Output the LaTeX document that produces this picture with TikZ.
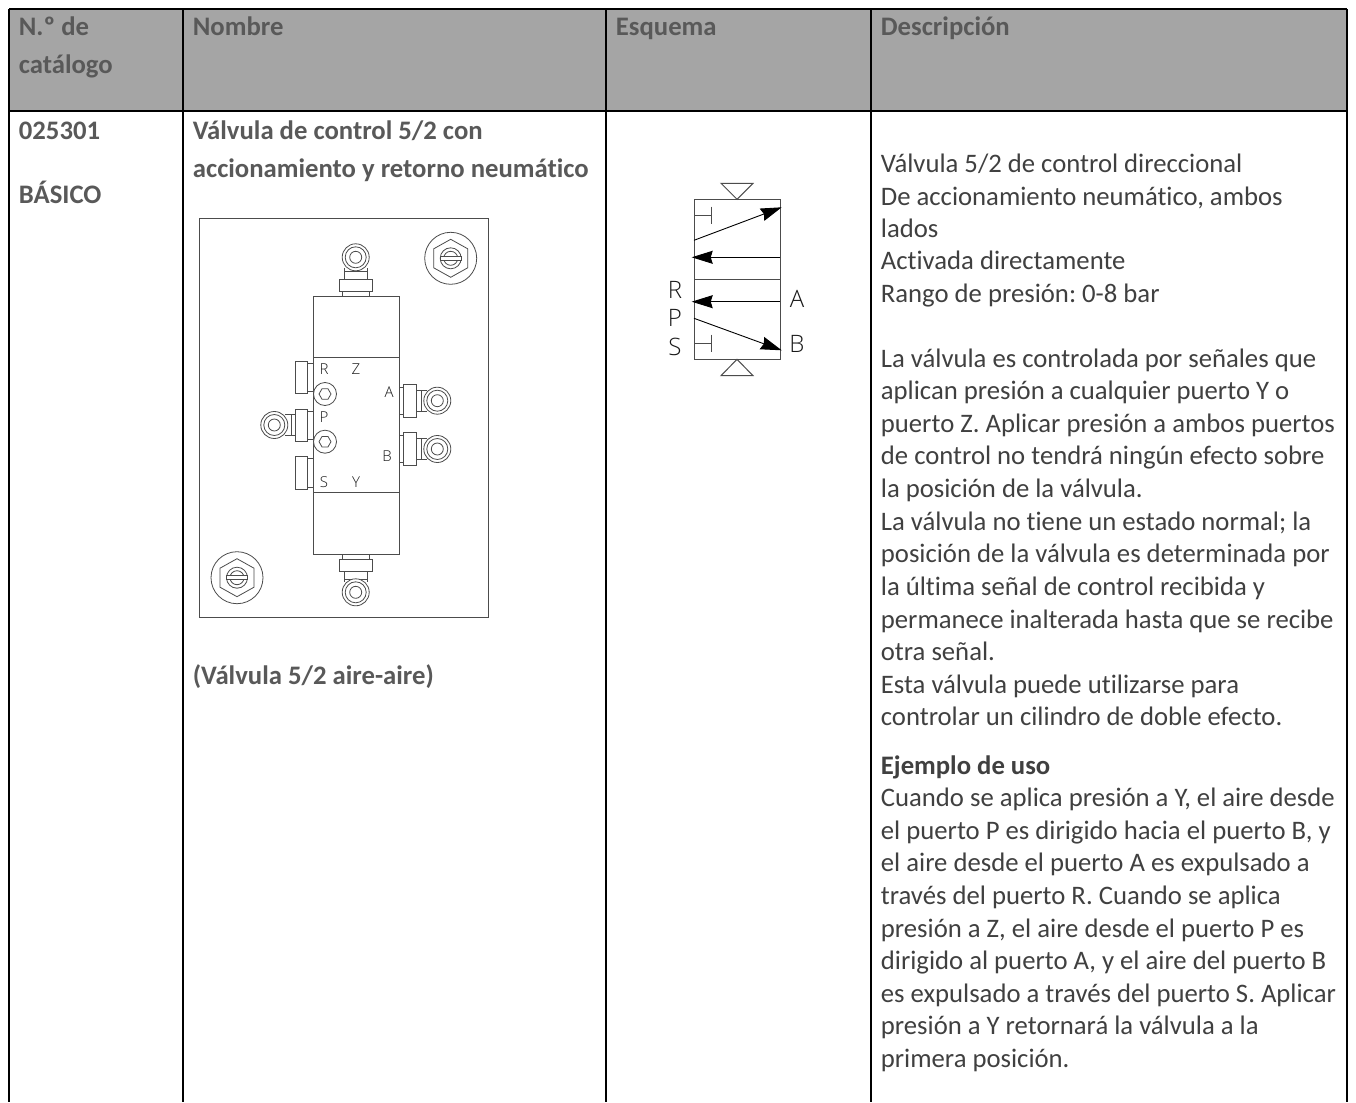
\documentclass[tikz,border=0pt]{standalone}
\usepackage{fontspec}
\setmainfont[Ligatures=CommonOff]{Carlito}
\newfontfamily\cadfont{Open Sans Light}
\usetikzlibrary{arrows.meta}
\definecolor{hdrfill}{HTML}{A5A5A5}
\definecolor{hdrtext}{HTML}{595959}
\definecolor{bodytext}{HTML}{404040}
\tikzset{
  x=1pt,y=-1pt,
  rule/.style={line width=2.4pt,black},
  cad/.style={line width=0.8pt,draw=black!70},
  bold/.style={anchor=base west,inner sep=0,yshift=-1pt,xshift=-0.3pt,font=\fontsize{26.7}{26.7}\selectfont\bfseries,text=hdrtext},
  txt/.style={anchor=base west,inner sep=0,yshift=-1pt,xshift=-0.3pt,font=\fontsize{26.7}{26.7}\selectfont,text=bodytext},
  small/.style={inner sep=0,font=\cadfont\fontsize{15}{15}\selectfont,text=black!90},
  big/.style={inner sep=0,font=\cadfont\fontsize{24}{24}\selectfont,text=black!90},
  flow/.style={line width=0.9pt,draw=black,-{Stealth[length=21pt,width=13pt,inset=2pt]}},
}
\newcommand{\fitcircle}[2]{%
  \draw[cad,fill=white] (#1,#2) circle[radius=13.5];
  \draw[cad] (#1,#2) circle[radius=10.5];
  \draw[cad] (#1,#2) circle[radius=6];}
\newcommand{\nut}[2]{%
  \draw[cad] (#1,#2) circle[radius=26];
  \draw[cad] (#1,#2-19)--(#1+17,#2-9.5)--(#1+17,#2+9.5)--(#1,#2+19)--(#1-17,#2+9.5)--(#1-17,#2-9.5)--cycle;
  \draw[cad] (#1,#2) circle[radius=10.5];
  \draw[cad] (#1,#2) circle[radius=7];
  \draw[cad,fill=white] (#1-10.5,#2-2) rectangle (#1+10.5,#2+2);}
\newcommand{\screw}[2]{%
  \draw[cad,fill=white] (#1,#2) circle[radius=11.5];
  \draw[cad] (#1-6,#2)--(#1-3,#2-5.2)--(#1+3,#2-5.2)--(#1+6,#2)--(#1+3,#2+5.2)--(#1-3,#2+5.2)--cycle;}
\begin{document}
\begin{tikzpicture}
\useasboundingbox (0,0) rectangle (1356,1102);
\fill[white] (0,0) rectangle (1356,1102);
% table
\fill[hdrfill] (9,9) rectangle (1347,111);
\draw[rule] (9,9)--(1347,9);
\draw[rule] (9,111)--(1347,111);
\draw[rule] (9,9)--(9,1102);
\draw[rule] (183,9)--(183,1102);
\draw[rule] (606,9)--(606,1102);
\draw[rule] (871,9)--(871,1102);
\draw[rule] (1347,9)--(1347,1102);
% header
\node[bold] (h1) at (19,35) {N.º de};
\node[bold] (h1b) at (19,73) {catálogo};
\node[bold] (h2) at (193,35) {Nombre};
\node[bold] (h3) at (616,35) {Esquema};
\node[bold] (h4) at (881,35) {Descripción};
% first columns
\node[bold] (c1) at (19,139) {025301};
\node[bold] (c1b) at (19,202) {BÁSICO};
\node[bold] (n1) at (193,139) {Válvula de control 5/2 con};
\node[bold] (n2) at (193,177) {accionamiento y retorno neumático};
\node[bold] (n3) at (193,683) {(Válvula 5/2 aire-aire)};
% description
\foreach \yy/\tt in {
 171/Válvula 5\slash 2 de control direccional,
 204/De accionamiento neumático{,} ambos,
 236/lados,
 268/Activada directamente,
 301/Rango de presión:\ 0-8 bar,
 366/La válvula es controlada por señales que,
 398/aplican presión a cualquier puerto Y o,
 431/puerto Z. Aplicar presión a ambos puertos,
 463/de control no tendrá ningún efecto sobre,
 496/la posición de la válvula.,
 529/La válvula no tiene un estado normal; la,
 561/posición de la válvula es determinada por,
 594/la última señal de control recibida y,
 627/permanece inalterada hasta que se recibe,
 659/otra señal.,
 692/Esta válvula puede utilizarse para,
 724/controlar un cilindro de doble efecto.,
 805/Cuando se aplica presión a Y{,} el aire desde,
 838/el puerto P es dirigido hacia el puerto B{,} y,
 870/el aire desde el puerto A es expulsado a,
 903/través del puerto R. Cuando se aplica,
 936/presión a Z{,} el aire desde el puerto P es,
 968/dirigido al puerto A{,} y el aire del puerto B,
 1001/es expulsado a través del puerto S. Aplicar,
 1033/presión a Y retornará la válvula a la,
 1066/primera posición.}
 {\node[txt] (d\yy) at (881,\yy) {\tt};}
\node[bold,text=bodytext] (ej) at (881,773) {Ejemplo de uso};
% panel
\draw[cad,line width=1pt] (199.5,218) rectangle (488.5,617);
% valve body
\draw[cad] (313,296.5) rectangle (399,554);
\draw[cad] (313,357.5)--(399,357.5);
\draw[cad] (313,492.5)--(399,492.5);
% top fitting
\draw[cad] (344,268)--(344,279) (367.5,268)--(367.5,279) (344,271)--(367.5,271);
\fitcircle{355.7}{257.3}
\draw[cad] (339.7,279) rectangle (372.3,291);
\draw[cad] (342.7,291) rectangle (369.3,296.5);
% bottom fitting
\draw[cad] (344,571)--(344,582) (367.5,571)--(367.5,582) (344,579)--(367.5,579);
\fitcircle{355.7}{592.3}
\draw[cad] (339.7,559) rectangle (372.3,571);
\draw[cad] (342.7,554) rectangle (369.3,559);
% nuts
\nut{450.7}{258.3}
\nut{237}{577.7}
% left blocks
\draw[cad] (295.7,361) rectangle (307,393);
\draw[cad] (307,363) rectangle (313,391);
\draw[cad] (295.7,409) rectangle (307,441.7);
\draw[cad] (307,411) rectangle (313,439.7);
\draw[cad] (295.7,456.7) rectangle (307,489);
\draw[cad] (307,458.7) rectangle (313,487);
\draw[cad] (285,414.5)--(295.7,414.5) (285,435.5)--(295.7,435.5) (291,414.5)--(291,435.5);
\fitcircle{274.3}{425}
\screw{325}{394}
\screw{325}{441.7}
% right blocks
\draw[cad] (399,387.7) rectangle (403.5,414);
\draw[cad] (403.5,384.5) rectangle (416,417);
\draw[cad] (416,390)--(427,390) (416,411)--(427,411) (421,390)--(421,411);
\fitcircle{437.3}{400.7}
\draw[cad] (399,435) rectangle (403.5,462);
\draw[cad] (403.5,432.7) rectangle (416,465);
\draw[cad] (416,438.5)--(427,438.5) (416,459.5)--(427,459.5) (421,438.5)--(421,459.5);
\fitcircle{437.3}{449}
% panel labels
\node[small] (lR) at (324,369) {R};
\node[small] (lZ) at (356,369) {Z};
\node[small] (lA) at (389,392) {A};
\node[small] (lP) at (324,417) {P};
\node[small] (lB) at (387,456) {B};
\node[small] (lS) at (324,482) {S};
\node[small] (lY) at (356,482) {Y};
% schematic
\draw[cad,line width=1pt] (694,199.3) rectangle (780,359.3);
\draw[cad,line width=1pt] (694,279.3)--(780,279.3);
\draw[cad,line width=1pt] (721,183.3)--(753,183.3)--(737,199.3)--cycle;
\draw[cad,line width=1pt] (721,375.7)--(753,375.7)--(737,359.3)--cycle;
\draw[cad,line width=1pt] (694,215.3)--(711,215.3) (711,206.7)--(711,224);
\draw[cad,line width=1pt] (694,343.3)--(711,343.3) (711,334.7)--(711,351.7);
\coordinate (a1s) at (694,240.3); \coordinate (a1e) at (781.7,207.3);
\coordinate (a2s) at (780,257.3);   \coordinate (a2e) at (691.7,257.3);
\coordinate (a3s) at (780,301.7);   \coordinate (a3e) at (691.7,301.7);
\coordinate (a4s) at (694,318.3); \coordinate (a4e) at (781.7,350.3);
\draw[flow] (a1s)--(a1e);
\draw[flow] (a2s)--(a2e);
\draw[flow] (a3s)--(a3e);
\draw[flow] (a4s)--(a4e);
\node[big] (sR) at (675,290) {R};
\node[big] (sP) at (675,318) {P};
\node[big] (sS) at (675,347) {S};
\node[big] (sA) at (797,299) {A};
\node[big] (sB) at (797,344) {B};
\end{tikzpicture}
\end{document}
